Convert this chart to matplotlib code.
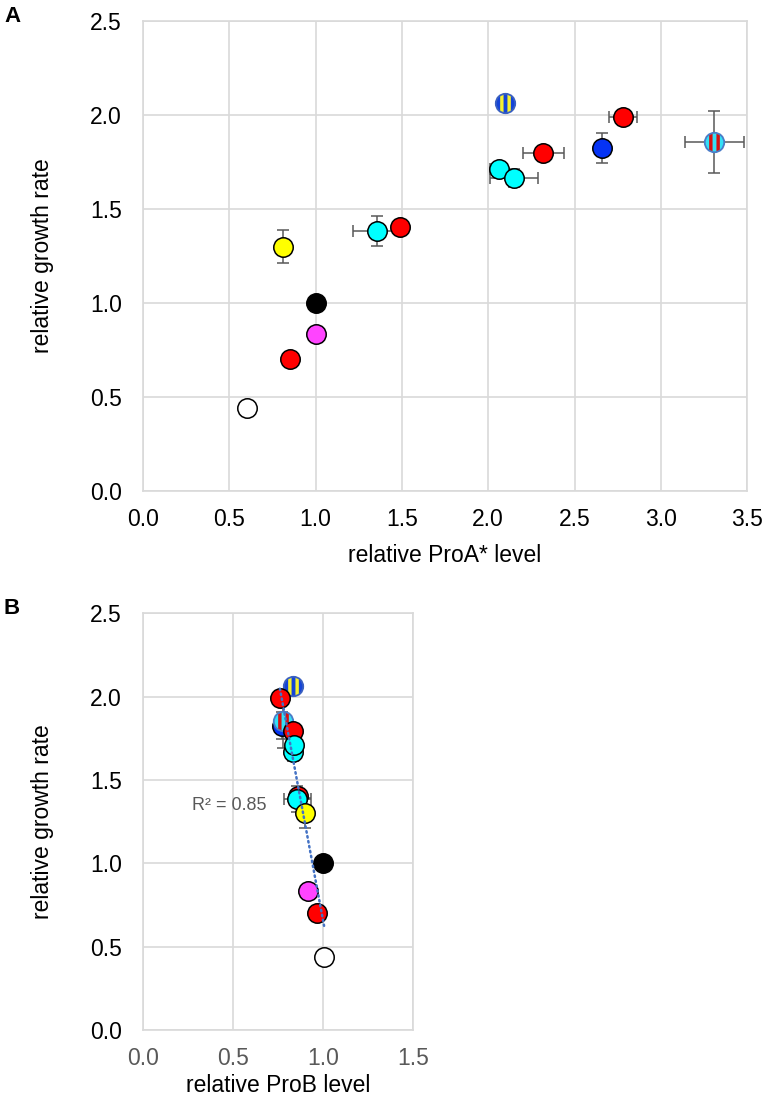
import numpy as np
import matplotlib
matplotlib.use("Agg")
import matplotlib.pyplot as plt
from matplotlib.path import Path

plt.rcParams['font.family'] = ['Liberation Sans', 'DejaVu Sans']

# strains (same order in both panels)
growth = [0.44, 0.70, 0.835, 1.00, 1.30, 1.385, 1.405, 1.665, 1.71, 1.795, 1.825, 1.855, 1.99, 2.065]
growth_err = [0, 0, 0, 0, 0.09, 0.08, 0, 0.05, 0, 0, 0.08, 0.165, 0, 0]
proA = [0.605, 0.85, 1.005, 1.00, 0.81, 1.355, 1.49, 2.15, 2.06, 2.32, 2.66, 3.31, 2.78, 2.10]
proA_err = [0, 0, 0.03, 0, 0, 0.14, 0, 0.14, 0.05, 0.12, 0.03, 0.17, 0.08, 0]
proB = [1.005, 0.965, 0.917, 1.00, 0.90, 0.855, 0.86, 0.83, 0.84, 0.83, 0.77, 0.775, 0.76, 0.83]
proB_err = [0, 0, 0, 0, 0, 0.075, 0, 0, 0, 0, 0, 0, 0, 0]

fill = ['#FFFFFF', '#FF0000', '#FF44FF', '#000000', '#FFFF00', '#00FFFF', '#FF0000',
        '#00FFFF', '#00FFFF', '#FF0000', '#0533F5', '#33E0F5', '#FF0000', '#1444D8']
stripe = [None] * 11 + ['#D81010', None, '#F5F030']
edge = ['#000000'] * 11 + ['#4A7CC8', '#000000', '#3A60C0']

order_a = [10, 11, 13, 12, 9, 8, 7, 6, 5, 4, 3, 2, 1, 0]
order_b = [10, 11, 13, 12, 9, 7, 8, 6, 5, 4, 3, 2, 1, 0]

r2_text = 'R² = 0.85'

GRID = '#D9D9D9'
ERR = '#595959'
MS = 14


def stripe_marker(bands):
    # vertical bands clipped to the unit circle
    polys = []
    for x0, x1 in bands:
        t = np.linspace(np.arccos(x0), np.arccos(x1), 20)
        top = np.column_stack([np.cos(t), np.sin(t)])
        bot = top[::-1] * [1, -1]
        v = np.vstack([top, bot, top[:1]])
        polys.append(Path(v, closed=True))
    return Path.make_compound_path(*polys)


bands = [(-0.55, -0.2), (0.2, 0.55)]
STRIPES = stripe_marker(bands)
scale = np.max(np.abs(STRIPES.vertices))


def draw_points(ax, xs, xerr, order):
    ax.errorbar(xs, growth, xerr=xerr, yerr=growth_err, fmt='none', ecolor=ERR,
                elinewidth=1.1, capsize=4, capthick=1.1, zorder=2)
    for i in order:
        z = 3 + order.index(i) * 0.01
        if stripe[i] is None:
            ax.plot(xs[i], growth[i], 'o', ms=MS, mfc=fill[i], mec=edge[i], mew=1.1, zorder=z)
        else:
            ax.plot(xs[i], growth[i], 'o', ms=MS, mfc=fill[i], mec='none', zorder=z)
            ax.plot(xs[i], growth[i], marker=STRIPES, ms=MS * scale, mfc=stripe[i], mec='none',
                    ls='none', zorder=z + 0.001)
            ax.plot(xs[i], growth[i], 'o', ms=MS, mfc='none', mec=edge[i], mew=1.3, zorder=z + 0.002)


def style(ax, xmax, xtick_color):
    ax.set_ylim(0, 2.5)
    ax.set_xlim(0, xmax)
    ax.set_yticks(np.arange(0, 2.51, 0.5))
    ax.set_xticks(np.arange(0, xmax + 0.01, 0.5))
    ax.yaxis.set_major_formatter(matplotlib.ticker.FormatStrFormatter('%.1f'))
    ax.xaxis.set_major_formatter(matplotlib.ticker.FormatStrFormatter('%.1f'))
    ax.grid(True, color=GRID, linewidth=1.2, zorder=0)
    ax.set_axisbelow(True)
    for s in ax.spines.values():
        s.set_color(GRID)
        s.set_linewidth(1.2)
    ax.tick_params(axis='both', length=0, labelsize=16.5)
    ax.tick_params(axis='y', pad=15)
    ax.tick_params(axis='x', pad=12, labelcolor=xtick_color)
    ax.set_ylabel('relative growth rate', fontsize=16.5)


fig = plt.figure(figsize=(7.64, 11), dpi=100)

# panel A
axA = fig.add_axes([0.187, 0.5536, 0.791, 0.4274])
style(axA, 3.5, 'black')
draw_points(axA, proA, proA_err, order_a)
axA.set_xlabel('relative ProA* level', fontsize=16.5, va='center')
axA.xaxis.set_label_coords(0.5, -0.138)
axA.yaxis.set_label_coords(-0.147, 0.5)

# panel B
axB = fig.add_axes([0.187, 0.0636, 0.354, 0.379])
style(axB, 1.5, '#595959')
draw_points(axB, proB, proB_err, order_b)
slope, icpt = np.polyfit(proB, growth, 1)
xl = np.array([min(proB), max(proB)])
axB.plot(xl, slope * xl + icpt, ls=(0, (0.6, 1.4)), color='#4472C4', lw=1.8,
         dash_capstyle='round', zorder=5)
axB.text(0.27, 1.345, r2_text, fontsize=13, color='#595959', va='center', ha='left')
axB.set_xlabel('relative ProB level', fontsize=16.5, va='center')
axB.xaxis.set_label_coords(0.5, -0.133)
axB.yaxis.set_label_coords(-0.33, 0.5)

fig.text(0.006, 0.985, 'A', fontsize=16, fontweight='bold', va='center')
fig.text(0.004, 0.447, 'B', fontsize=16, fontweight='bold', va='center')

fig.savefig('out.png', dpi=100)
